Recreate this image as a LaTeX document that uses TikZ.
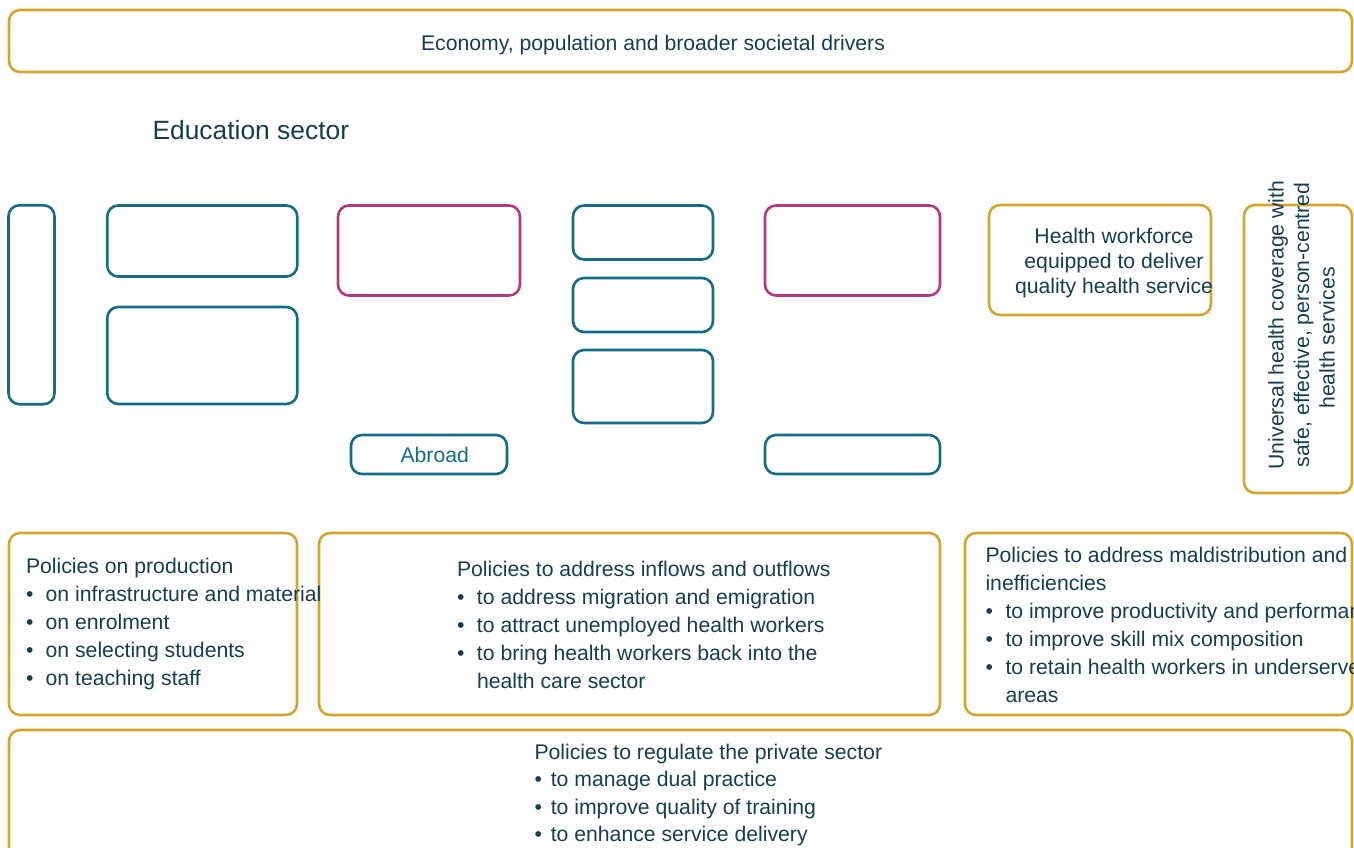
\documentclass[tikz,border=0pt]{standalone}
\usepackage{fontspec}
\setmainfont{Liberation Sans}
\definecolor{gold}{RGB}{212,166,46}
\definecolor{tealc}{RGB}{22,108,134}
\definecolor{pinkc}{RGB}{178,58,120}
\definecolor{ink}{RGB}{22,62,78}
% bullet item with a given hanging indent
\newcommand\itm[2]{\makebox[#1][l]{\textbullet}#2}
\begin{document}
\begin{tikzpicture}[x=1pt,y=-1pt,
  frame/.style={draw, line width=2.6pt, rounded corners=11pt, inner sep=0pt, outer sep=0pt},
  goldbox/.style={frame, draw=gold},
  tealbox/.style={frame, draw=tealc},
  pinkbox/.style={frame, draw=pinkc},
  txt/.style={inner sep=0pt, outer sep=0pt, text=ink, font=\fontsize{21.2}{28}\selectfont},
  list/.style={txt, align=left, anchor=north west}]
\useasboundingbox (0,0) rectangle (1354,848);
\clip (0,0) rectangle (1354,848);

% drivers band
\node[goldbox, minimum width=1343pt, minimum height=62pt] (drivers) at (680.5,41) {};
\node[txt, anchor=base] (driverstxt) at (653,50.5) {Economy, population and broader societal drivers};

% education sector
\node[txt, anchor=base west, font=\fontsize{26.4}{30}\selectfont] (edu) at (152.5,139.3) {Education sector};
\node[tealbox, minimum width=46pt, minimum height=199pt] (eduL) at (31.5,304.75) {};
\node[tealbox, minimum width=190pt, minimum height=71pt] (eduA) at (202.25,241) {};
\node[tealbox, minimum width=190pt, minimum height=97pt] (eduB) at (202.25,355.5) {};

% flows
\node[pinkbox, minimum width=182pt, minimum height=90pt] (flowA) at (429,250.5) {};
\node[tealbox, minimum width=156pt, minimum height=39pt] (abroad) at (429,454.5) {};
\node[txt, anchor=base, text=tealc] (abroadtxt) at (434.7,462.7) {Abroad};

% labour market
\node[tealbox, minimum width=140pt, minimum height=54pt] (lmA) at (643,232.5) {};
\node[tealbox, minimum width=140pt, minimum height=54pt] (lmB) at (643,305) {};
\node[tealbox, minimum width=140pt, minimum height=73pt] (lmC) at (643,386.5) {};

\node[pinkbox, minimum width=175pt, minimum height=90pt] (flowB) at (852.5,250.5) {};
\node[tealbox, minimum width=175pt, minimum height=39pt] (outB) at (852.5,454.5) {};

% outcomes
\node[goldbox, minimum width=222pt, minimum height=110pt] (hw) at (1100,260) {};
\node[txt, align=center, anchor=north, font=\fontsize{21.2}{25.3}\selectfont] (hwtxt) at (1114,227.7)
  {Health workforce\\equipped to deliver\\quality health service};
\node[goldbox, minimum width=108pt, minimum height=288pt] (uhc) at (1298,349) {};
\node[txt, align=center, rotate=90, font=\fontsize{21.2}{25.5}\selectfont] (uhctxt) at (1301.5,325)
  {Universal health coverage with\\safe, effective, person-centred\\health services\hspace*{26pt}};

% policy levers: frames first, so that the texts lie on top of them
\node[goldbox, minimum width=288pt, minimum height=182pt] (polA) at (153,624) {};
\node[goldbox, minimum width=621pt, minimum height=182pt] (polB) at (629.5,624) {};
\node[goldbox, minimum width=387pt, minimum height=182pt] (polC) at (1158.5,624) {};
\node[goldbox, minimum width=1343pt, minimum height=140pt] (polD) at (680.5,800) {};

\node[list] (polAtxt) at (26,558.3)
  {Policies on production\\
   \itm{19.7pt}{on infrastructure and material}\\
   \itm{19.7pt}{on enrolment}\\
   \itm{19.7pt}{on selecting students}\\
   \itm{19.7pt}{on teaching staff}};

\node[list] (polBtxt) at (457,561)
  {Policies to address inflows and outflows\\
   \itm{20pt}{to address migration and emigration}\\
   \itm{20pt}{to attract unemployed health workers}\\
   \itm{20pt}{to bring health workers back into the}\\
   \hspace*{20pt}health care sector};

\node[list] (polCtxt) at (985.5,546.7)
  {Policies to address maldistribution and\\
   inefficiencies\\
   \itm{20pt}{to improve productivity and performance}\\
   \itm{20pt}{to improve skill mix composition}\\
   \itm{20pt}{to retain health workers in underserved}\\
   \hspace*{20pt}areas};

\node[list, font=\fontsize{21.2}{27.3}\selectfont] (polDtxt) at (534.5,744.3)
  {Policies to regulate the private sector\\
   \itm{16.3pt}{to manage dual practice}\\
   \itm{16.3pt}{to improve quality of training}\\
   \itm{16.3pt}{to enhance service delivery}};
\end{tikzpicture}
\end{document}
